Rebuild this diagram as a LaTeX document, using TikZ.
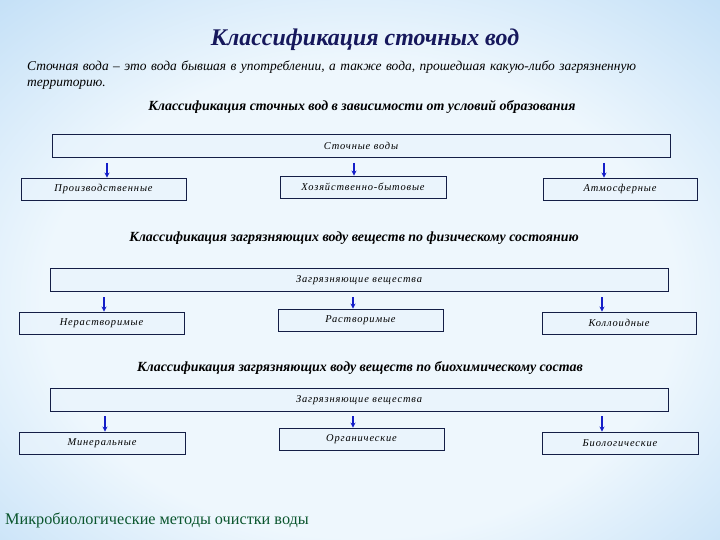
\documentclass[tikz,border=0pt]{standalone}
\usepackage{fontspec}
\setmainfont{Liberation Serif}
\newfontfamily\boxfont[LetterSpace=8]{Liberation Serif}
\usetikzlibrary{arrows.meta,positioning}
\definecolor{bgEdge}{RGB}{122,184,235}
\definecolor{bgSoft}{RGB}{196,224,247}
\definecolor{bgMid}{RGB}{238,247,253}
\definecolor{titleNavy}{RGB}{22,24,92}
\definecolor{boxLine}{RGB}{20,30,70}
\definecolor{boxFill}{RGB}{232,243,252}
\definecolor{arrBlue}{RGB}{20,30,200}
\definecolor{footGreen}{RGB}{10,85,45}
\pgfdeclareradialshading{slidebg}{\pgfpoint{0bp}{-4bp}}{color(0bp)=(bgMid); color(22bp)=(bgMid); color(37bp)=(bgSoft); color(50bp)=(bgEdge); color(72bp)=(bgEdge)}
\tikzset{
  catbox/.style={draw=boxLine, fill=boxFill, fill opacity=0.6, text opacity=1, line width=0.9pt, inner sep=0pt,
    minimum height=23bp, font=\boxfont\fontsize{10.5}{12}\selectfont\itshape},
  subbox/.style={catbox, minimum height=22bp},
  headtxt/.style={font=\fontsize{14}{16}\selectfont\bfseries\itshape},
  downarr/.style={-{Stealth[length=5bp,width=5bp]}, line width=1.3pt, arrBlue},
}
\begin{document}
\begin{tikzpicture}[x=1bp, y=-1bp]
    \useasboundingbox (0,0) rectangle (720,540);
    % background
    \shade[shading=slidebg] (0,0) rectangle (720,540);

    % title and definition
    \node[titleNavy, font=\fontsize{24}{28}\selectfont\bfseries\itshape] (title) at (365,40) {Классификация сточных вод};
    \node[anchor=north west, align=left, text width=640bp, inner sep=0pt,
      font=\fontsize{13.5}{16}\selectfont\itshape] (defn) at (27,61)
      {Сточная вода -- это вода бывшая в употреблении, а также вода, прошедшая какую-либо загрязненную территорию.};

    % by origin
    \node[headtxt] (head1) at (362,107) {Классификация сточных вод в зависимости от условий образования};
    \node[catbox, minimum width=618bp] (root1) at (361,145.5) {Сточные воды};
    \node[subbox, minimum width=165bp] (prod) at (103.5,189) {Производственные};
    \node[subbox, minimum width=166bp] (home) at (363,187) {Хозяйственно-бытовые};
    \node[subbox, minimum width=154bp] (atmo) at (620,189) {Атмосферные};
    \coordinate (a1) at (107,163); \coordinate (a2) at (354,163); \coordinate (a3) at (604,163);
    \draw[downarr] (a1) -- (a1 |- prod.north);
    \draw[downarr] (a2) -- (a2 |- home.north);
    \draw[downarr] (a3) -- (a3 |- atmo.north);

    % by physical state
    \node[headtxt] (head2) at (354,238) {Классификация загрязняющих воду веществ по физическому состоянию};
    \node[catbox, minimum width=618bp] (root2) at (359,280) {Загрязняющие вещества};
    \node[subbox, minimum width=165bp] (insol) at (101.5,323) {Нерастворимые};
    \node[subbox, minimum width=165bp] (sol) at (360.5,320) {Растворимые};
    \node[subbox, minimum width=154bp] (coll) at (619,323) {Коллоидные};
    \coordinate (b1) at (104,297); \coordinate (b2) at (353,297); \coordinate (b3) at (602,297);
    \draw[downarr] (b1) -- (b1 |- insol.north);
    \draw[downarr] (b2) -- (b2 |- sol.north);
    \draw[downarr] (b3) -- (b3 |- coll.north);

    % by biochemical composition
    \node[headtxt] (head3) at (360,368) {Классификация загрязняющих воду веществ по биохимическому состав};
    \node[catbox, minimum width=618bp] (root3) at (359,400) {Загрязняющие вещества};
    \node[subbox, minimum width=166bp] (mine) at (102,443) {Минеральные};
    \node[subbox, minimum width=165bp] (orga) at (361.5,439) {Органические};
    \node[subbox, minimum width=156bp] (bio) at (620,443) {Биологические};
    \coordinate (c1) at (105,416); \coordinate (c2) at (353,416); \coordinate (c3) at (602,416);
    \draw[downarr] (c1) -- (c1 |- mine.north);
    \draw[downarr] (c2) -- (c2 |- orga.north);
    \draw[downarr] (c3) -- (c3 |- bio.north);

    % footer
    \node[anchor=west, inner sep=0pt, footGreen, font=\fontsize{16.3}{19}\selectfont] (foot) at (5,520) {Микробиологические методы очистки воды};
\end{tikzpicture}
\end{document}
